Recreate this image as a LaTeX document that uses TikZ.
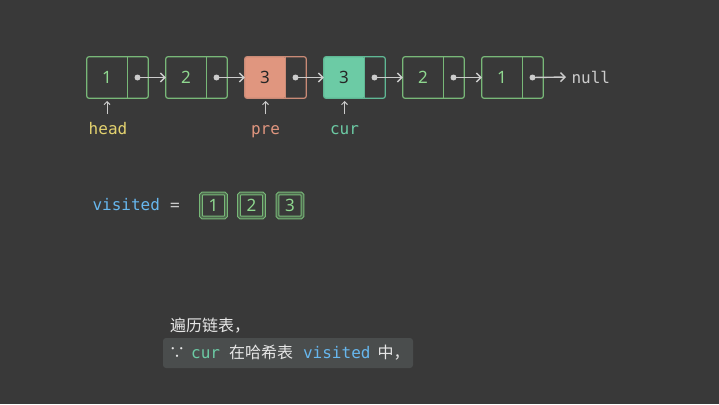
\documentclass[tikz,border=0pt]{standalone}
\usepackage{fontspec}
\setmonofont{DejaVu Sans Mono}
\newfontfamily\cjk{Noto Sans CJK SC}
\newfontfamily\digitfont{Noto Sans}
\usetikzlibrary{arrows.meta}
\definecolor{bg}{HTML}{393939}
\definecolor{gborder}{HTML}{78B878}
\definecolor{gmid}{HTML}{4E684E}
\definecolor{gtext}{HTML}{8FD88F}
\definecolor{prefill}{HTML}{E0967F}
\definecolor{preborder}{HTML}{C98A76}
\definecolor{curfill}{HTML}{6CCBA5}
\definecolor{curborder}{HTML}{5FB894}
\definecolor{arrowc}{HTML}{CCCCCC}
\definecolor{headc}{HTML}{E3D26F}
\definecolor{prec}{HTML}{E0967F}
\definecolor{curc}{HTML}{6CCBA5}
\definecolor{blue}{HTML}{67B7EE}
\definecolor{boxfill}{HTML}{4A4D4D}
\definecolor{wtext}{HTML}{E6E6E6}
\definecolor{dark}{HTML}{262626}
\tikzset{
  digits/.style={font=\fontsize{17}{17}\selectfont\digitfont},
  valbox/.style={minimum width=40pt, minimum height=41pt, inner sep=0pt, digits},
  ptrbox/.style={minimum width=21pt, minimum height=41pt, inner sep=0pt},
  outline/.style={line width=1.2pt, rounded corners=2pt},
  link/.style={arrowc, line width=1.4pt, -{Straight Barb[length=4.5pt,width=9pt]}},
  dotc/.style={circle, fill=arrowc, inner sep=0pt, minimum size=6pt},
  uparr/.style={arrowc, line width=1pt, -{Straight Barb[length=3pt,width=6pt]}},
  code/.style={font=\fontsize{16}{16}\selectfont\ttfamily},
  vbox/.style={draw=gborder, double=gmid, double distance=1.6pt, line width=1pt, minimum width=25pt, minimum height=24pt,
     rounded corners=1.5pt, inner sep=0pt, digits, text=gtext},
}
\begin{document}
\begin{tikzpicture}[x=1pt,y=-1pt]
\fill[bg] (0,0) rectangle (719,404);
\useasboundingbox (0,0) rectangle (719,404);
% nodes: left edge, value, fill, border, text colour
\foreach \i/\x/\v/\fc/\bc/\tc in {1/87/1/bg/gborder/gtext,2/166/2/bg/gborder/gtext,3/245/3/prefill/preborder/dark,
   4/324/3/curfill/curborder/dark,5/403/2/bg/gborder/gtext,6/482/1/bg/gborder/gtext}{
  \node[valbox] (v\i) at (\x+20,77.5) {};
  \node[ptrbox] (p\i) at (\x+50.5,77.5) {};
  \fill[\fc, rounded corners=2pt] (v\i.north west) rectangle (v\i.south east);
  \node[digits, text=\tc] at (v\i.center) {\v};
  \draw[outline, draw=\bc] (v\i.north west) rectangle (p\i.south east);
  \draw[line width=1.2pt, draw=\bc] (v\i.north east) -- (v\i.south east);
  \node[dotc] (d\i) at (p\i.center) {};
}
\foreach \a/\b in {1/2,2/3,3/4,4/5,5/6}{
  \draw[link] (d\a.center) -- (v\b.west);
}
\node[code, text=arrowc, anchor=west] (null) at (568,77) {null};
\draw[link, shorten >=2pt] (d6.center) -- (null.west);
% pointers
\draw[uparr] (107,114) -- (107,101);
\node[code, text=headc, anchor=base] (head) at (108,134) {head};
\draw[uparr] (265.5,114) -- (265.5,101);
\node[code, text=prec, anchor=base] (pre) at (265.5,134) {pre};
\draw[uparr] (344.5,114) -- (344.5,101);
\node[code, text=curc, anchor=base] (cur) at (344.5,134) {cur};
% visited
\node[code, text=blue, anchor=base west] (vis) at (89,210.5) {visited};
\node[code, text=arrowc, anchor=base] (eq) at (175,210.5) {=};
\node[vbox] (s1) at (213.5,205.5) {1};
\node[vbox] (s2) at (251.5,205.5) {2};
\node[vbox] (s3) at (290,205.5) {3};
% caption
\node[anchor=west, text=wtext, font=\fontsize{16}{16}\cjk, inner sep=0pt] (c1) at (170,326) {遍历链表，};
\fill[boxfill, rounded corners=3pt] (163,338) rectangle (413,368);
\node[anchor=west, inner sep=0pt, text=wtext, font=\fontsize{16}{16}\cjk] (c2) at (169,353)
  {∵\hspace{6pt}{\color{curc}\fontsize{16}{16}\selectfont\ttfamily cur}\hspace{9pt}在哈希表\hspace{10pt}{\color{blue}\fontsize{16}{16}\selectfont\ttfamily visited}\hspace{7pt}中，};
\end{tikzpicture}
\end{document}
